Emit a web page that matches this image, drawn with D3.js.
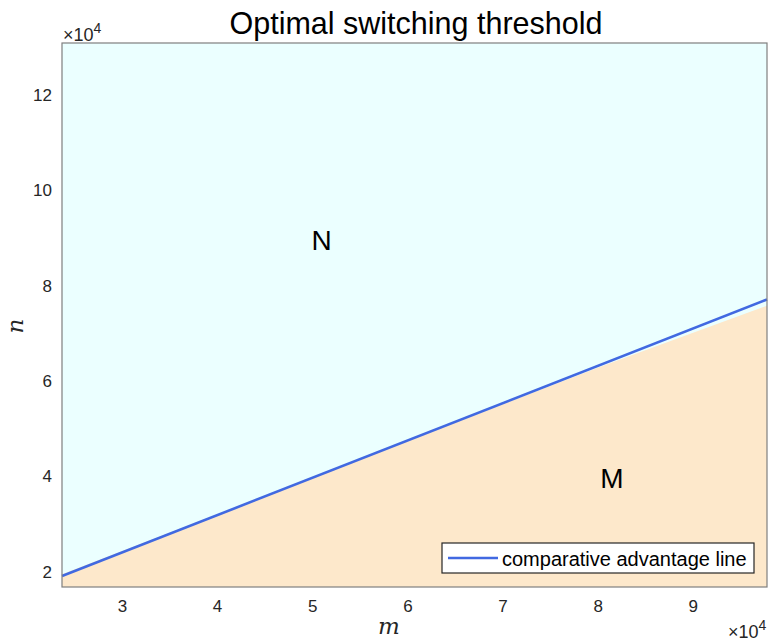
<!DOCTYPE html>
<html>
<head>
<meta charset="utf-8">
<script src="https://cdn.jsdelivr.net/npm/d3@7"></script>
<style>
  html, body { margin: 0; padding: 0; background: #fff; }
  svg { display: block; font-family: "Liberation Sans", Arial, Helvetica, sans-serif; }
</style>
</head>
<body>
<svg id="chart" width="768" height="641"></svg>
<script>
// Axis extents (units of 10^4)
const mDomain = [2.37, 9.78];
const nDomain = [1.68, 13.09];

// Tick values
const mTicks = [3, 4, 5, 6, 7, 8, 9];
const nTicks = [2, 4, 6, 8, 10, 12];

// Comparative advantage line (m, n) in units of 10^4
const lineM = [2.37, 9.78];
const lineN = [1.91, 7.71];

// Computed switching boundary separating region N (above) from region M (below)
const boundaryM = [2.37, 5.0, 8.0, 9.78];
const boundaryN = [1.95, 3.97, 6.28, 7.58];

// Region labels
const regionNames = ["N", "M"];
const regionM = [5.1, 8.15];
const regionN = [8.95, 3.95];

const W = 768, H = 641;
const margin = { left: 62, right: 1, top: 43, bottom: 54 };

const svg = d3.select("#chart");

const x = d3.scaleLinear().domain(mDomain).range([margin.left, W - margin.right]);
const y = d3.scaleLinear().domain(nDomain).range([H - margin.bottom, margin.top]);

const colUpper = "#ebffff";
const colLower = "#fde8cb";
const colLine = "#4169e1";

// Upper region (N)
svg.append("rect")
  .attr("x", x(mDomain[0])).attr("y", y(nDomain[1]))
  .attr("width", x(mDomain[1]) - x(mDomain[0]))
  .attr("height", y(nDomain[0]) - y(nDomain[1]))
  .attr("fill", colUpper);

// Lower region (M), bounded by the switching boundary
const bPts = boundaryM.map((m, i) => [m, boundaryN[i]]);
const area = d3.area()
  .x(d => x(d[0]))
  .y0(y(nDomain[0]))
  .y1(d => y(d[1]));
svg.append("path").datum(bPts).attr("d", area).attr("fill", colLower);

// Comparative advantage line
const lPts = lineM.map((m, i) => [m, lineN[i]]);
svg.append("path").datum(lPts)
  .attr("d", d3.line().x(d => x(d[0])).y(d => y(d[1])))
  .attr("fill", "none").attr("stroke", colLine).attr("stroke-width", 2.6);

// Region labels
svg.selectAll("text.region").data(regionNames).enter().append("text")
  .attr("class", "region")
  .attr("x", (d, i) => x(regionM[i]))
  .attr("y", (d, i) => y(regionN[i]))
  .attr("text-anchor", "middle").attr("dominant-baseline", "central")
  .attr("font-size", 28).attr("fill", "#000")
  .text(d => d);

// Axes
const xAxis = d3.axisBottom(x).tickValues(mTicks).tickSize(0).tickPadding(13).tickFormat(d3.format("d"));
const yAxis = d3.axisLeft(y).tickValues(nTicks).tickSize(0).tickPadding(10).tickFormat(d3.format("d"));

const gx = svg.append("g").attr("transform", `translate(0,${H - margin.bottom})`).call(xAxis);
const gy = svg.append("g").attr("transform", `translate(${margin.left},0)`).call(yAxis);
[gx, gy].forEach(g => {
  g.select(".domain").remove();
  g.selectAll("text").attr("font-size", 17).attr("fill", "#262626")
    .attr("font-family", "'Liberation Sans', Arial, sans-serif");
});

// Axes box
svg.append("rect")
  .attr("x", margin.left).attr("y", margin.top)
  .attr("width", W - margin.right - margin.left)
  .attr("height", H - margin.bottom - margin.top)
  .attr("fill", "none").attr("stroke", "#7f7f7f").attr("stroke-width", 1.2);

// Exponent markers
function exponent(xpos, ypos) {
  const t = svg.append("text").attr("x", xpos).attr("y", ypos)
    .attr("font-size", 18).attr("fill", "#262626");
  t.append("tspan").text("×10");
  t.append("tspan").attr("dy", -8).attr("font-size", 14).text("4");
}
exponent(63, 41);
exponent(728, 638);

// Axis labels
svg.append("text").attr("x", 389).attr("y", 634)
  .attr("text-anchor", "middle").attr("font-family", "'DejaVu Serif', 'Liberation Serif', serif")
  .attr("font-style", "italic").attr("font-size", 23).attr("fill", "#262626").text("m");
svg.append("text")
  .attr("transform", `translate(23,${y(7.15)}) rotate(-90)`)
  .attr("text-anchor", "middle").attr("font-family", "'DejaVu Serif', 'Liberation Serif', serif")
  .attr("font-style", "italic").attr("font-size", 23).attr("fill", "#262626").text("n");

// Title
svg.append("text").attr("x", 416).attr("y", 34)
  .attr("text-anchor", "middle").attr("font-size", 30.5).attr("fill", "#000")
  .text("Optimal switching threshold");

// Legend
const lg = svg.append("g").attr("transform", "translate(442,543)");
lg.append("rect").attr("width", 312).attr("height", 30)
  .attr("fill", "#fff").attr("stroke", "#262626").attr("stroke-width", 1.2);
lg.append("line").attr("x1", 6).attr("x2", 56).attr("y1", 15).attr("y2", 15)
  .attr("stroke", colLine).attr("stroke-width", 2.6);
lg.append("text").attr("x", 60).attr("y", 16).attr("dominant-baseline", "central")
  .attr("font-size", 20).attr("fill", "#000").text("comparative advantage line");
</script>
</body>
</html>
